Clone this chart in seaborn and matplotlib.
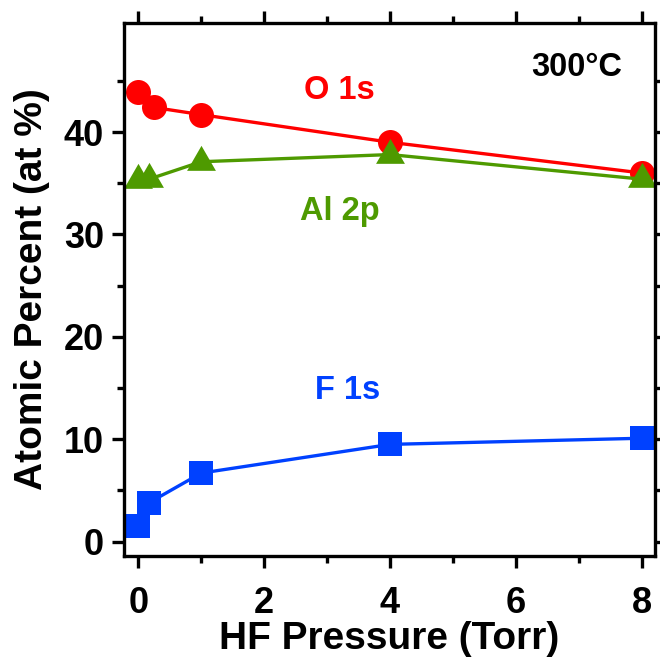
import matplotlib
matplotlib.use("Agg")
import matplotlib.pyplot as plt
from matplotlib.ticker import FixedLocator
from matplotlib.path import Path
import seaborn as sns
import pandas as pd

# XPS composition vs. HF pressure at 300 °C
o1s_pressure = [0.0, 0.25, 1.0, 4.0, 8.0]
o1s_percent = [43.9, 42.4, 41.7, 39.0, 36.0]

al2p_pressure = [0.0, 0.17, 1.0, 4.0, 8.0]
al2p_percent = [35.3, 35.4, 37.1, 37.8, 35.4]

f1s_pressure = [0.0, 0.17, 1.0, 4.0, 8.0]
f1s_percent = [1.5, 3.8, 6.7, 9.5, 10.1]

x_major = [0, 2, 4, 6, 8]
x_minor = [1, 3, 5, 7]
y_major = [0, 10, 20, 30, 40]
y_minor = [5, 15, 25, 35, 45]

RED = "#FF0000"
GREEN = "#4E9A00"
BLUE = "#0041FF"

sns.set_style("ticks")
plt.rcParams["font.family"] = ["Liberation Sans", "DejaVu Sans"]
plt.rcParams["font.weight"] = "bold"
plt.rcParams["text.color"] = "black"
plt.rcParams["axes.labelcolor"] = "black"
plt.rcParams["xtick.color"] = "black"
plt.rcParams["ytick.color"] = "black"

fig = plt.figure(figsize=(6.6, 6.62), dpi=100)
ax = fig.add_axes([0.1879, 0.1601, 0.9924 - 0.1879, 0.9653 - 0.1601])

# equilateral triangle centred on its centroid
tri = Path([(0, 1.0), (-0.866, -0.5), (0.866, -0.5), (0, 1.0)],
           [Path.MOVETO, Path.LINETO, Path.LINETO, Path.CLOSEPOLY])

series = [
    (o1s_pressure, o1s_percent, RED, "o", 18.0),
    (al2p_pressure, al2p_percent, GREEN, tri, 24.0),
    (f1s_pressure, f1s_percent, BLUE, "s", 17.5),
]
for xs, ys, col, mk, ms in series:
    df = pd.DataFrame({"p": xs, "v": ys})
    sns.lineplot(data=df, x="p", y="v", ax=ax, color=col, lw=2.4,
                 marker=mk, markersize=ms, markeredgewidth=0,
                 markerfacecolor=col, sort=False)

ax.set_xlim(-0.227, 8.21)
ax.set_ylim(-1.4, 50.65)

ax.xaxis.set_major_locator(FixedLocator(x_major))
ax.xaxis.set_minor_locator(FixedLocator(x_minor))
ax.yaxis.set_major_locator(FixedLocator(y_major))
ax.yaxis.set_minor_locator(FixedLocator(y_minor))
ax.set_xticklabels([str(v) for v in x_major])
ax.set_yticklabels([str(v) for v in y_major])

for side in ["left", "right", "top", "bottom"]:
    ax.spines[side].set_visible(True)
    ax.spines[side].set_linewidth(2.4)
    ax.spines[side].set_color("black")

ax.tick_params(which="both", direction="out", top=True, right=True,
               width=2.4, color="black", labelcolor="black")
ax.tick_params(which="major", length=8.4, labelsize=26)
ax.tick_params(which="minor", length=4.8)
ax.tick_params(axis="x", which="major", pad=13)
ax.tick_params(axis="y", which="major", pad=6)
for lab in ax.get_xticklabels() + ax.get_yticklabels():
    lab.set_fontweight("bold")

ax.set_xlabel("HF Pressure (Torr)", fontsize=28, fontweight="bold",
              labelpad=0, color="black")
ax.set_ylabel("Atomic Percent (at %)", fontsize=28, fontweight="bold",
              labelpad=10, color="black")

ax.text(3.2, 44.1, "O 1s", color=RED, fontsize=23.5, fontweight="bold",
        ha="center", va="center")
ax.text(3.2, 32.2, "Al 2p", color=GREEN, fontsize=23.5, fontweight="bold",
        ha="center", va="center")
ax.text(3.33, 14.8, "F 1s", color=BLUE, fontsize=23.5, fontweight="bold",
        ha="center", va="center")
ax.text(6.96, 46.3, "300°C", color="black", fontsize=23.5, fontweight="bold",
        ha="center", va="center")

fig.savefig("out.png", dpi=100)
